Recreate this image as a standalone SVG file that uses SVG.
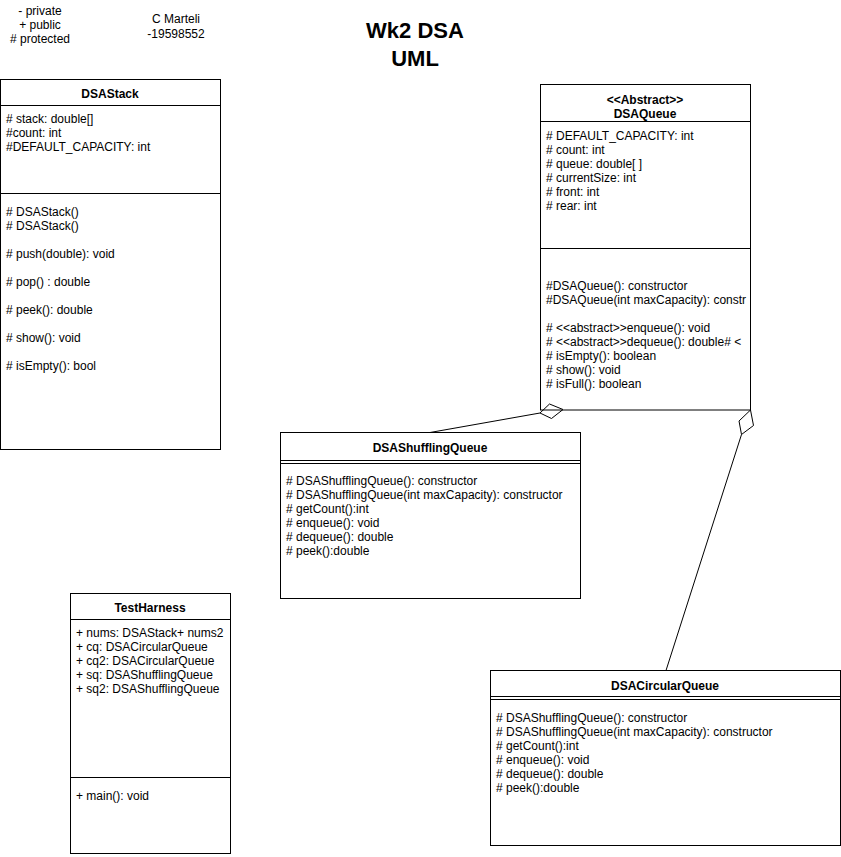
<svg xmlns="http://www.w3.org/2000/svg" width="841" height="857" viewBox="0 0 841 857">
<style>
.box{fill:#fff;stroke:#000;stroke-width:1}
.ln{stroke:#000;stroke-width:1;fill:none}
text{font-family:"Liberation Sans",Arial,Helvetica,sans-serif;font-size:12px;fill:#000}
.b{font-weight:bold;text-anchor:middle}
.c{text-anchor:middle}
.t{font-weight:bold;font-size:22px;text-anchor:middle}
</style>
<defs>
<clipPath id="qclip"><rect x="541" y="85" width="209" height="325"/></clipPath>
</defs>
<rect width="841" height="857" fill="#fff"/>
<g id="legend">
<text class="c" x="40" y="15">- private</text>
<text class="c" x="40" y="29">+ public</text>
<text class="c" x="40" y="43">  # protected</text>
</g>
<g id="author">
<text class="c" x="176" y="23">C Marteli</text>
<text class="c" x="176" y="38">-19598552</text>
</g>
<g id="title">
<text class="t" x="415" y="38">Wk2 DSA</text>
<text class="t" x="415" y="66">UML</text>
</g>
<g id="DSAStack">
<rect class="box" x="0.5" y="79.5" width="220" height="370"/>
<line class="ln" x1="0.5" y1="105.5" x2="220.5" y2="105.5"/>
<line class="ln" x1="0.5" y1="193.5" x2="220.5" y2="193.5"/>
<text class="b" x="110" y="98">DSAStack</text>
<text x="6" y="123"># stack: double[]</text>
<text x="6" y="137">#count: int</text>
<text x="6" y="151">#DEFAULT_CAPACITY: int</text>
<text x="6" y="216"># DSAStack()</text>
<text x="6" y="230"># DSAStack()</text>
<text x="6" y="258"># push(double): void</text>
<text x="6" y="286"># pop() : double</text>
<text x="6" y="314"># peek(): double</text>
<text x="6" y="342"># show(): void</text>
<text x="6" y="370"># isEmpty(): bool</text>
</g>
<g id="DSAQueue">
<rect class="box" x="540.5" y="84.5" width="210" height="325.5"/>
<line class="ln" x1="540.5" y1="121.5" x2="750.5" y2="121.5"/>
<line class="ln" x1="540.5" y1="248.5" x2="750.5" y2="248.5"/>
<text class="b" x="645" y="104">&lt;&lt;Abstract&gt;&gt;</text>
<text class="b" x="645" y="118">DSAQueue</text>
<text x="546" y="140"># DEFAULT_CAPACITY: int</text>
<text x="546" y="154"># count: int</text>
<text x="546" y="168"># queue: double[ ]</text>
<text x="546" y="182"># currentSize: int</text>
<text x="546" y="196"># front: int</text>
<text x="546" y="210"># rear: int</text>
<g clip-path="url(#qclip)">
<text x="546" y="290">#DSAQueue(): constructor</text>
<text x="546" y="304">#DSAQueue(int maxCapacity): constr</text>
<text x="546" y="332"># &lt;&lt;abstract&gt;&gt;enqueue(): void</text>
<text x="546" y="346"># &lt;&lt;abstract&gt;&gt;dequeue(): double# &lt;</text>
<text x="546" y="360"># isEmpty(): boolean</text>
<text x="546" y="374"># show(): void</text>
<text x="546" y="388"># isFull(): boolean</text>
</g>
</g>
<g id="DSAShufflingQueue">
<rect class="box" x="280.5" y="432.5" width="300" height="166"/>
<line class="ln" x1="280.5" y1="460.5" x2="580.5" y2="460.5"/>
<line class="ln" x1="280.5" y1="463.5" x2="580.5" y2="463.5"/>
<text class="b" x="430" y="452">DSAShufflingQueue</text>
<text x="286" y="485"># DSAShufflingQueue(): constructor</text>
<text x="286" y="499"># DSAShufflingQueue(int maxCapacity): constructor</text>
<text x="286" y="513"># getCount():int</text>
<text x="286" y="527"># enqueue(): void</text>
<text x="286" y="541"># dequeue(): double</text>
<text x="286" y="555"># peek():double</text>
</g>
<g id="TestHarness">
<rect class="box" x="70.5" y="593.5" width="160" height="260"/>
<line class="ln" x1="70.5" y1="619.5" x2="230.5" y2="619.5"/>
<line class="ln" x1="70.5" y1="777.5" x2="230.5" y2="777.5"/>
<text class="b" x="150" y="612">TestHarness</text>
<text x="76" y="637">+ nums: DSAStack+ nums2</text>
<text x="76" y="651">+ cq: DSACircularQueue</text>
<text x="76" y="665">+ cq2: DSACircularQueue</text>
<text x="76" y="679">+ sq: DSAShufflingQueue</text>
<text x="76" y="693">+ sq2: DSAShufflingQueue</text>
<text x="76" y="800">+ main(): void</text>
</g>
<g id="DSACircularQueue">
<rect class="box" x="490.5" y="670.5" width="350" height="175"/>
<line class="ln" x1="490.5" y1="696.5" x2="840.5" y2="696.5"/>
<line class="ln" x1="490.5" y1="699.5" x2="840.5" y2="699.5"/>
<text class="b" x="665" y="690">DSACircularQueue</text>
<text x="496" y="722"># DSAShufflingQueue(): constructor</text>
<text x="496" y="736"># DSAShufflingQueue(int maxCapacity): constructor</text>
<text x="496" y="750"># getCount():int</text>
<text x="496" y="764"># enqueue(): void</text>
<text x="496" y="778"># dequeue(): double</text>
<text x="496" y="792"># peek():double</text>
</g>
<g id="connectors">
<line class="ln" x1="430" y1="432.5" x2="540" y2="413"/>
<polygon class="ln" fill="#fff" points="540,413 549.5,404 563,409.5 551.5,418.5"/>
<line class="ln" x1="666" y1="670.5" x2="741.5" y2="434.5"/>
<polygon class="ln" fill="#fff" points="750.5,410 753.5,425.5 741.5,434.5 739,421"/>
</g>
</svg>
